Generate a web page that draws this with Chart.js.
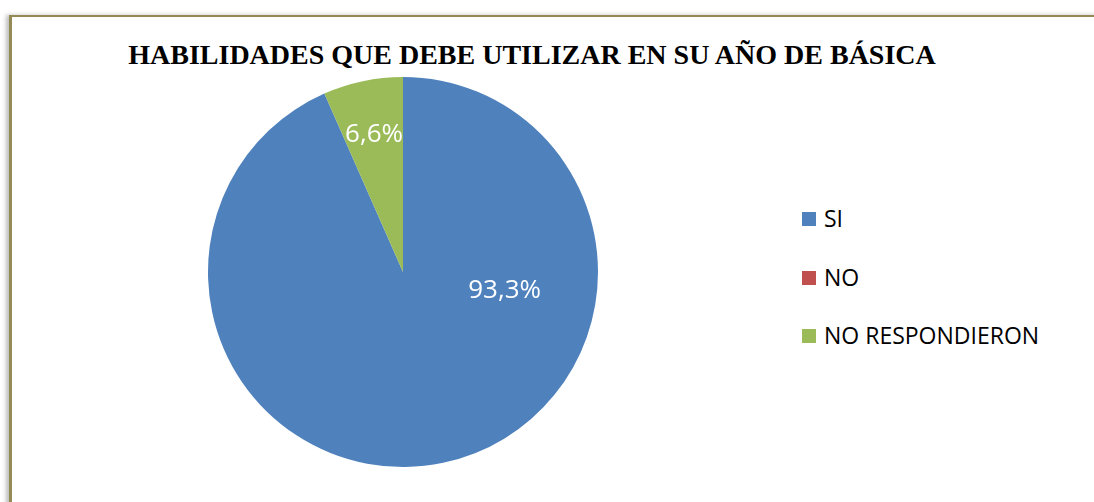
<!DOCTYPE html>
<html lang="es">
<head>
    <meta charset="UTF-8">
    <title>Habilidades</title>
    <script src="https://cdn.jsdelivr.net/npm/chart.js"></script>
    <style>
        body, html {
            margin: 0;
            padding: 0;
            width: 1094px;
            height: 502px;
            overflow: hidden;
            background: #fff;
        }
        .frame {
            position: absolute;
            left: 9px;
            top: 15px;
            width: 1100px;
            height: 520px;
            border-top: 2px solid #948A54;
            border-left: 3px solid #948A54;
            box-shadow: -3px 0 4px rgba(0, 0, 0, 0.25);
        }
        .title {
            position: absolute;
            left: 0;
            width: 1064px;
            top: 39px;
            text-align: center;
            font-family: 'Liberation Serif', 'Times New Roman', serif;
            font-weight: bold;
            font-size: 28px;
            line-height: 32px;
            color: #000;
            white-space: nowrap;
        }
        .legend {
            position: absolute;
            left: 802px;
            top: 203px;
            font-family: 'Open Sans', sans-serif;
            font-size: 23px;
            line-height: 30px;
            color: #000;
        }
        .legend div {
            height: 58.5px;
            display: flex;
            align-items: flex-start;
        }
        .legend span.box {
            display: inline-block;
            width: 14px;
            height: 14px;
            margin-top: 9px;
            margin-right: 8px;
        }
        canvas {
            position: absolute;
            left: 0;
            top: 0;
        }
    </style>
</head>
<body>
    <div class="frame"></div>
    <div class="title">HABILIDADES QUE DEBE UTILIZAR EN SU AÑO DE BÁSICA</div>
    <div class="legend" id="legend"></div>
    <canvas id="pieChart" width="1094" height="502"></canvas>
    <script>
        const categories = ['SI', 'NO', 'NO RESPONDIERON'];
        const percentages = [93.3, 0, 6.6];
        const sliceColors = ['#4F81BD', '#C0504D', '#9BBB59'];

        // legend as plain html
        const legendEl = document.getElementById('legend');
        categories.forEach((cat, i) => {
            const row = document.createElement('div');
            row.innerHTML = '<span class="box" style="background:' + sliceColors[i] + '"></span>' + cat;
            legendEl.appendChild(row);
        });

        // white percentage labels inside the slices
        const sliceLabels = {
            id: 'sliceLabels',
            afterDatasetsDraw(chart, args, opts) {
                const ctx = chart.ctx;
                const meta = chart.getDatasetMeta(0);
                ctx.save();
                ctx.fillStyle = '#fff';
                ctx.font = '26px "Open Sans", sans-serif';
                ctx.textAlign = 'center';
                ctx.textBaseline = 'middle';
                meta.data.forEach((arc, i) => {
                    const v = percentages[i];
                    if (!v) return;
                    const p = arc.getProps(['x', 'y', 'startAngle', 'endAngle', 'outerRadius'], true);
                    const o = opts.place[i] || {};
                    const ang = o.angle !== undefined ? o.angle : (p.startAngle + p.endAngle) / 2;
                    const r = p.outerRadius * (o.dist || 0.65);
                    const txt = v.toFixed(1).replace('.', ',') + '%';
                    ctx.fillText(txt, p.x + Math.cos(ang) * r, p.y + Math.sin(ang) * r);
                });
                ctx.restore();
            }
        };

        const ctx = document.getElementById('pieChart').getContext('2d');
        new Chart(ctx, {
            type: 'pie',
            data: {
                labels: categories,
                datasets: [{
                    data: percentages,
                    backgroundColor: sliceColors,
                    borderWidth: 0
                }]
            },
            options: {
                responsive: false,
                animation: false,
                layout: {
                    padding: { top: 77, bottom: 35, left: 208, right: 496 }
                },
                plugins: {
                    legend: { display: false },
                    title: { display: false },
                    tooltip: { enabled: false },
                    sliceLabels: {
                        place: [{ angle: 0.185, dist: 0.53 }, {}, { dist: 0.72 }]
                    }
                }
            },
            plugins: [sliceLabels]
        });
    </script>
</body>
</html>
